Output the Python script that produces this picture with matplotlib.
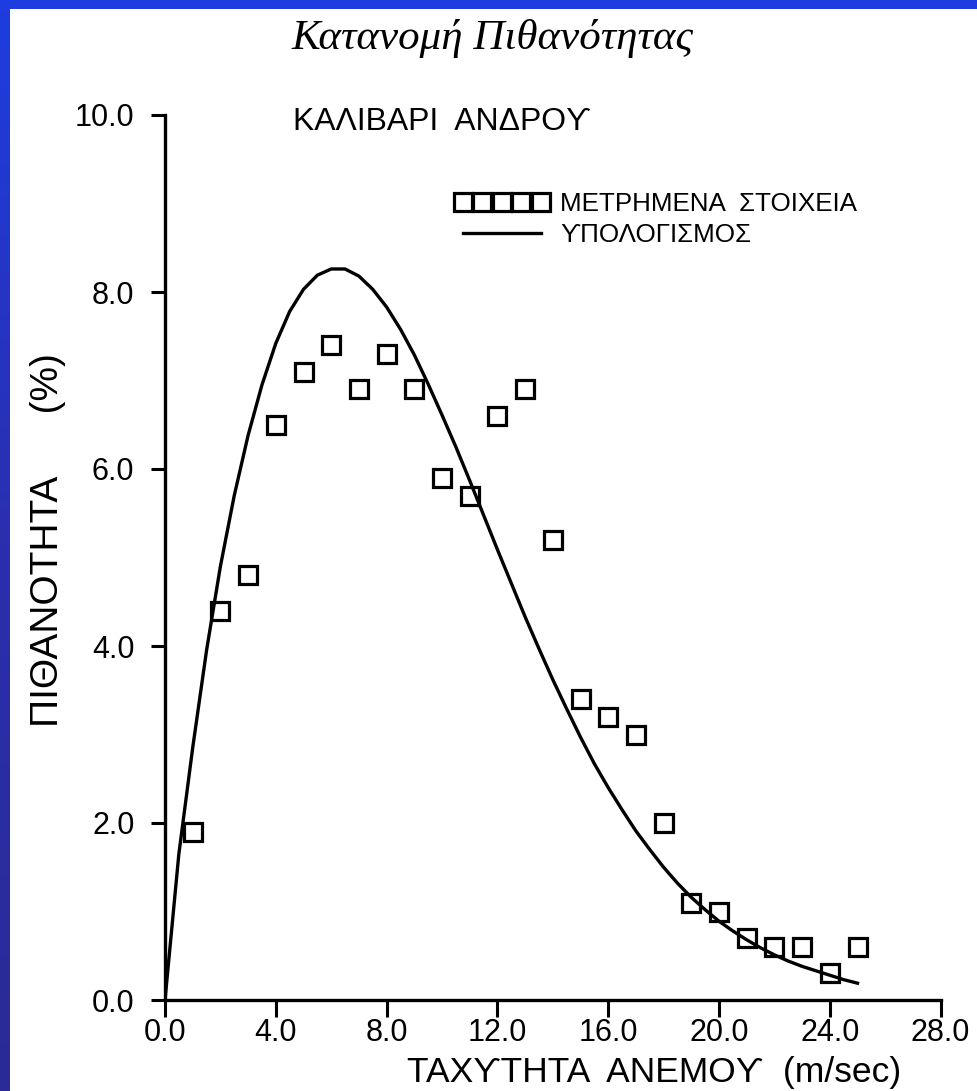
## probability distribution of wind speed, Kalivari Andros
import numpy as np
import matplotlib
matplotlib.use('Agg')
import matplotlib.pyplot as plt
from matplotlib import font_manager
from matplotlib.patches import Rectangle

# measured probabilities (%) for each wind speed (m/sec)
speed_meas = [1, 2, 3, 4, 5, 6, 7, 8, 9, 10, 11, 12, 13,
              14, 15, 16, 17, 18, 19, 20, 21, 22, 23, 24, 25]
prob_meas = [1.9, 4.4, 4.8, 6.5, 7.1, 7.4, 6.9, 7.3, 6.9, 5.9, 5.7, 6.6, 6.9,
             5.2, 3.4, 3.2, 3.0, 2.0, 1.1, 1.0, 0.7, 0.6, 0.6, 0.3, 0.6]

# calculated curve, every 0.5 m/sec
speed_calc = [0.0, 0.5, 1.0, 1.5, 2.0, 2.5, 3.0, 3.5, 4.0, 4.5, 5.0, 5.5, 6.0,
              6.5, 7.0, 7.5, 8.0, 8.5, 9.0, 9.5, 10.0, 10.5, 11.0, 11.5, 12.0,
              12.5, 13.0, 13.5, 14.0, 14.5, 15.0, 15.5, 16.0, 16.5, 17.0, 17.5,
              18.0, 18.5, 19.0, 19.5, 20.0, 20.5, 21.0, 21.5, 22.0, 22.5, 23.0,
              23.5, 24.0, 24.5, 25.0]
prob_calc = [0.0, 1.65, 2.85, 3.95, 4.90, 5.70, 6.38, 6.95, 7.42, 7.78, 8.03,
             8.19, 8.26, 8.26, 8.18, 8.03, 7.83, 7.58, 7.29, 6.96, 6.61, 6.25,
             5.87, 5.48, 5.09, 4.71, 4.33, 3.97, 3.62, 3.29, 2.97, 2.67, 2.40,
             2.15, 1.91, 1.70, 1.50, 1.32, 1.16, 1.02, 0.89, 0.78, 0.68, 0.59,
             0.51, 0.44, 0.38, 0.33, 0.28, 0.23, 0.19]

x_ticks = [0, 4, 8, 12, 16, 20, 24, 28]
y_ticks = [0, 2, 4, 6, 8, 10]

sans = ['Liberation Sans', 'DejaVu Sans']
plt.rcParams['font.family'] = sans

# narrow font for the plotter-like lettering, if it is there
names = set(f.name for f in font_manager.fontManager.ttflist)
if 'Liberation Sans Narrow' in names:
    narrow = ['Liberation Sans Narrow', 'DejaVu Sans']
    k = 1.0
elif 'DejaVu Sans Condensed' in names:
    narrow = ['DejaVu Sans Condensed', 'DejaVu Sans']
    k = 0.9
else:
    narrow = sans
    k = 0.85

W, H = 977, 1091
fig = plt.figure(figsize=(W / 100, H / 100), dpi=100)

# blue slide frame with white page on top
bg = fig.add_axes([0, 0, 1, 1])
grad = np.linspace(0, 1, 256).reshape(-1, 1)
cmap = matplotlib.colors.LinearSegmentedColormap.from_list(
    'slide', ['#1e3de0', '#2a2fae', '#2b2a96'])
bg.imshow(grad, aspect='auto', cmap=cmap, extent=[0, 1, 0, 1])
bg.add_patch(Rectangle((10 / W, 0), 1, 1 - 9 / H, color='white', lw=0))
bg.set_xlim(0, 1)
bg.set_ylim(0, 1)
bg.axis('off')

# main chart area
ax = fig.add_axes([165 / W, 91 / H, (940.6 - 165) / W, (1000 - 115) / H])
ax.patch.set_visible(False)

ax.plot(speed_meas, prob_meas, 's', ms=13.5, mfc='none', mec='black', mew=2.3,
        label='ΜΕΤΡΗΜΕΝΑ  ΣΤΟΙΧΕΙΑ')
ax.plot(speed_calc, prob_calc, '-', color='black', lw=2.4,
        label='ϒΠΟΛΟΓΙΣΜΟΣ')

ax.set_xlim(0, 28)
ax.set_ylim(0, 10)
ax.set_xticks(x_ticks)
ax.set_xticklabels(['%.1f' % v for v in x_ticks])
ax.set_yticks(y_ticks)
ax.set_yticklabels(['%.1f' % v for v in y_ticks])

for side in ['top', 'right']:
    ax.spines[side].set_visible(False)
for side in ['left', 'bottom']:
    ax.spines[side].set_linewidth(2.4)
ax.tick_params(axis='y', length=10, width=2.2, pad=12, labelsize=22)
ax.tick_params(axis='x', length=12, width=2.2, pad=1, labelsize=22)

ax.set_xlabel('ΤΑΧϒΤΗΤΑ  ΑΝΕΜΟϒ  (m/sec)', fontsize=25.5, va='top')
ax.xaxis.set_label_coords(0.63, -0.063)
ax.set_ylabel('ΠΙΘΑΝΟΤΗΤΑ      (%)', fontsize=28)
ax.yaxis.set_label_coords(-0.128, 0.52)

ax.text(0.165, 0.983, 'ΚΑΛΙΒΑΡΙ  ΑΝΔΡΟϒ', transform=ax.transAxes,
        family=narrow, fontsize=27 * k, va='baseline', ha='left')

ax.legend(loc='upper left', bbox_to_anchor=(0.374, 0.913), frameon=False,
          numpoints=5, handlelength=3.6, handletextpad=0.45, borderpad=0,
          borderaxespad=0, labelspacing=0.28,
          prop={'family': narrow, 'size': 22 * k})

fig.text(0.504, 1 - 49 / H, 'Κατανομή Πιθανότητας', family='Liberation Serif',
         style='italic', fontsize=31, ha='center', va='baseline')

fig.savefig('out.png', dpi=100)
